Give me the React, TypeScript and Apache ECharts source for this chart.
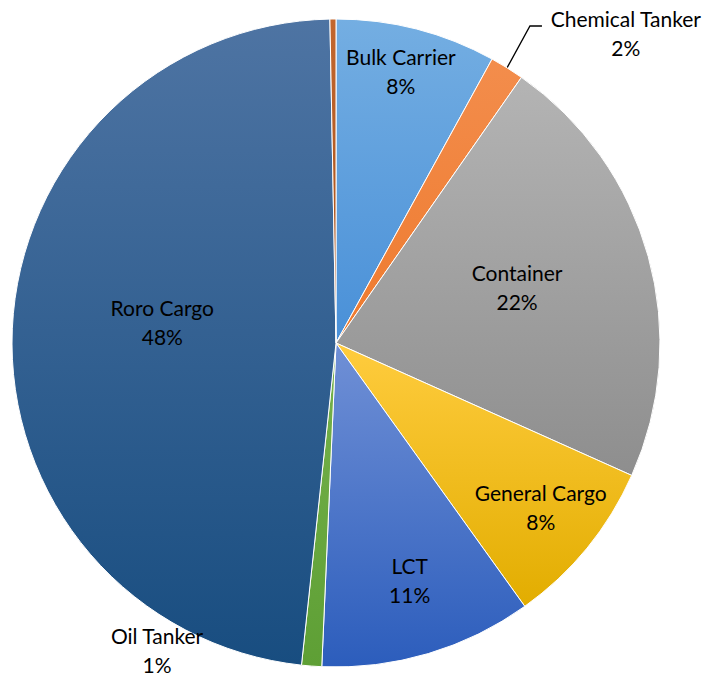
import React, { useEffect, useRef } from "react";
import * as echarts from "echarts";

const categories = ["Bulk Carrier", "Chemical Tanker", "Container", "General Cargo", "LCT", "Oil Tanker", "Roro Cargo", "Other"];
const values = [8.0, 1.7, 22.0, 8.4, 10.6, 1.0, 48.0, 0.3];

const topColors = ["#74AEE2", "#F38D4C", "#B4B4B4", "#FFCC3E", "#7090D6", "#76B24C", "#4E74A3", "#C2662E"];
const bottomColors = ["#4990D8", "#EE7A2E", "#8E8E8E", "#E2AD00", "#2C5DBC", "#5E9F35", "#184D80", "#A4501A"];

// [radius factor, angle offset (deg)] for each label
const labelPlace: [number, number][] = [
  [0.864, -1.0],
  [1.31, 11.2],
  [0.585, -1.7],
  [0.81, -0.5],
  [0.766, -0.7],
  [1.097, 25.9],
  [0.54, 4.4],
  [0.5, 0],
];

const CX = 336;
const CY = 343;
const R = 324;

export default function App() {
  const ref = useRef<HTMLDivElement>(null);
  useEffect(() => {
    if (!ref.current) return;
    const chart = echarts.init(ref.current, undefined, { renderer: "svg" });
    const total = values.reduce((a, b) => a + b, 0);
    const mids: number[] = [];
    let acc = 0;
    values.forEach((v) => {
      mids.push(((acc + v / 2) / total) * 360);
      acc += v;
    });
    const polar = (deg: number, r: number): [number, number] => {
      const a = (deg * Math.PI) / 180;
      return [CX + r * Math.sin(a), CY - r * Math.cos(a)];
    };
    const data = values.map((v, i) => {
      const item: any = {
        name: categories[i],
        value: v,
        itemStyle: {
          color: new echarts.graphic.LinearGradient(0, 0, 0, 1, [
            { offset: 0, color: topColors[i] },
            { offset: 1, color: bottomColors[i] },
          ]),
        },
      };
      if (i === 1) {
        item.label = { position: "outside" };
        item.labelLine = { show: true, length: 20, length2: 12, lineStyle: { color: "#000", width: 1.3 } };
      } else if (i === 5) {
        item.label = { position: "outside" };
        item.labelLine = { show: false };
      } else if (i === 7) {
        item.label = { show: false };
        item.labelLine = { show: false };
      }
      return item;
    });
    chart.setOption({
      animation: false,
      series: [
        {
          type: "pie",
          center: [CX, CY],
          radius: R,
          startAngle: 90,
          clockwise: true,
          avoidLabelOverlap: false,
          percentPrecision: 0,
          itemStyle: { borderColor: "#fff", borderWidth: 1 },
          label: {
            show: true,
            position: "inside",
            formatter: "{b}\n{d}%",
            fontFamily: "Lato, 'Noto Sans', sans-serif",
            fontSize: 21,
            lineHeight: 29,
            color: "#000",
            align: "center",
          },
          labelLine: { show: false },
          labelLayout: (params: any) => {
            const i = params.dataIndex;
            const [f, off] = labelPlace[i];
            const [x, y] = polar(mids[i] + off, f * R);
            const res: any = { x, y, align: "center", verticalAlign: "middle" };
            if (i === 1) {
              const p0 = polar(mids[i], R);
              const p1 = polar(mids[i] - 0.4, R * 1.147);
              const p2: [number, number] = [p1[0] + 12, p1[1]];
              res.labelLinePoints = [p0, p1, p2];
            }
            return res;
          },
          data,
        },
      ],
    });
    return () => chart.dispose();
  }, []);
  return (
    <div
      ref={ref}
      style={{ position: "fixed", left: 0, top: 0, width: 713, height: 678, background: "#fff" }}
    />
  );
}
